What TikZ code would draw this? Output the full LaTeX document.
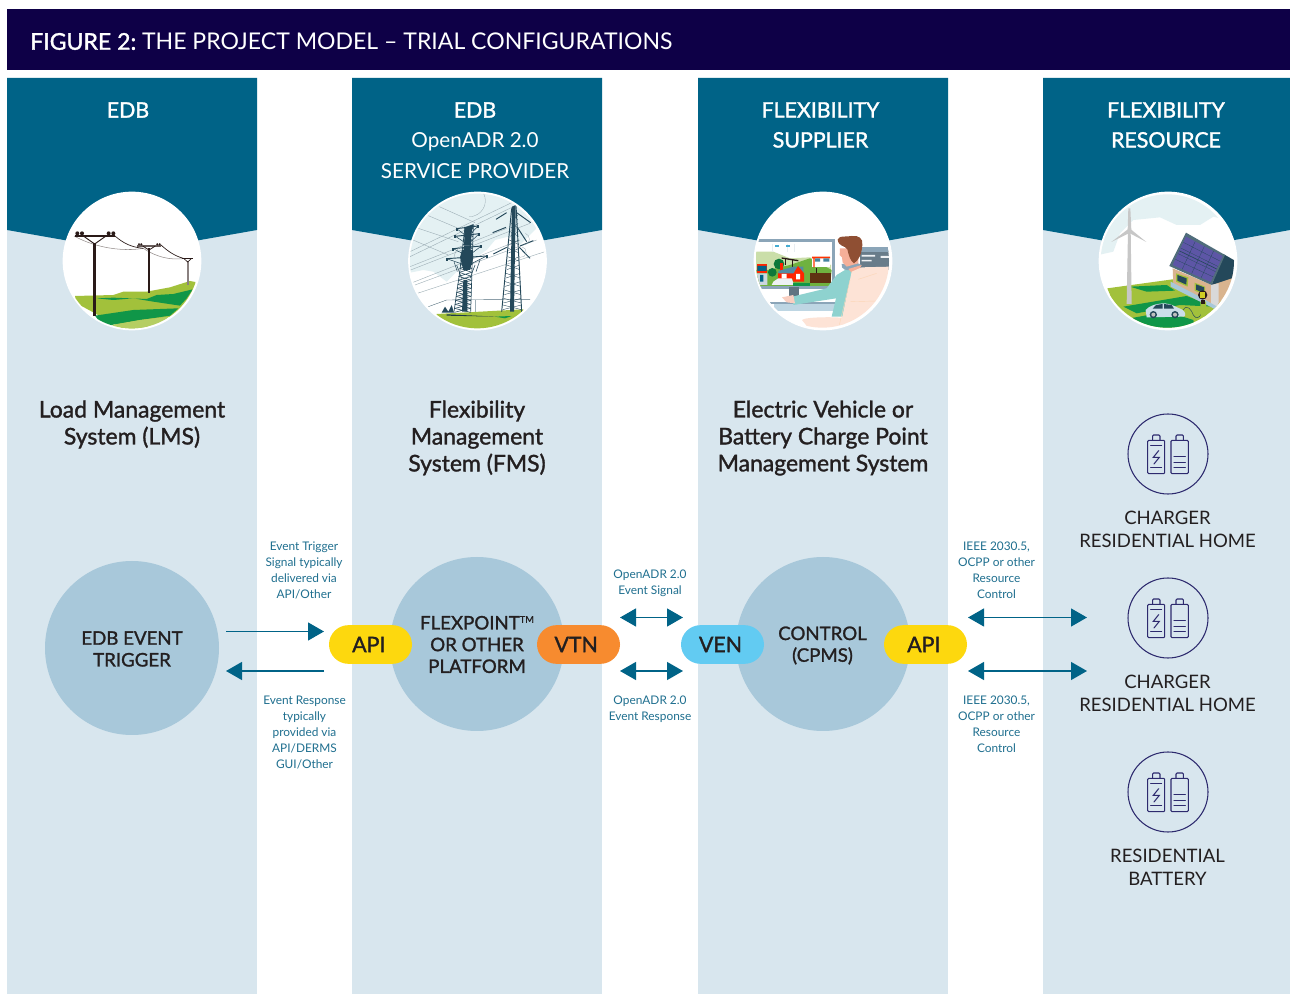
\documentclass[tikz,border=0pt]{standalone}
\usepackage{fontspec}
\setmainfont{Lato}
\newfontfamily\medfont[FakeBold=1.4]{Lato}
\usetikzlibrary{arrows.meta,calc}
\definecolor{navy}{HTML}{0E0047}
\definecolor{teal}{HTML}{006387}
\definecolor{pale}{HTML}{D8E6EE}
\definecolor{disc}{HTML}{A8C8DA}
\definecolor{yel}{HTML}{FDD80E}
\definecolor{ora}{HTML}{F78B2F}
\definecolor{sky}{HTML}{62CBF2}
\definecolor{ink}{HTML}{231F20}
\definecolor{icon}{HTML}{2D2A6E}
\definecolor{lab}{HTML}{1F6F8F}
\definecolor{lgreen}{HTML}{A2C13B}
\definecolor{dgreen}{HTML}{109648}
\definecolor{mist}{HTML}{E4F1F3}
\definecolor{pyl}{HTML}{24485A}
\definecolor{pole}{HTML}{2A1A18}
\definecolor{frameblue}{HTML}{8BA5B8}
\definecolor{shirt}{HTML}{8ED2CF}
\definecolor{hair}{HTML}{8F4F33}
\definecolor{chair}{HTML}{FDE3D6}
\definecolor{skin}{HTML}{F5AF98}
\definecolor{roof}{HTML}{5D56A6}
\definecolor{wall}{HTML}{D9B48F}
\tikzset{
 headtxt/.style={text=white,align=center,inner sep=0pt,font=\fontsize{15.5}{23.2}\selectfont},
 headb/.style={headtxt,font=\medfont\fontsize{16}{22.5}\selectfont},
 systxt/.style={text=ink,align=center,inner sep=0pt,font=\medfont\fontsize{17.2}{20.2}\selectfont},
 captxt/.style={text=ink,align=center,inner sep=0pt,font=\fontsize{13.9}{17.6}\selectfont},
 innertxt/.style={text=ink,align=center,inner sep=0pt,font=\medfont\fontsize{14}{16.3}\selectfont},
 smalltxt/.style={text=lab,align=center,inner sep=0pt,font=\fontsize{8.9}{12}\selectfont},
 pill/.style={rounded corners=14.6pt,minimum width=62.25pt,minimum height=29pt,inner sep=0pt,text=ink,font=\medfont\fontsize{16}{18}\selectfont},
 bigdisc/.style={circle,fill=disc,minimum size=130.5pt,inner sep=0pt},
 whitedisc/.style={circle,fill=white,minimum size=104pt,inner sep=0pt},
 ringdisc/.style={circle,draw=icon,line width=.8pt,minimum size=60pt,inner sep=0pt},
 flow/.style={draw=teal,line width=.9pt},
 oneway/.style={flow,-{Triangle[length=12pt,width=13.5pt]}},
 twoway/.style={flow,{Triangle[length=12pt,width=13.5pt]}-{Triangle[length=12pt,width=13.5pt]}},
 batt/.style={draw=icon,line width=.8pt,rounded corners=.8pt,line cap=round},
 zoomed/.style={x=.25pt,y=-.25pt},
}
\newcommand{\battery}[1]{%
 \begin{scope}[shift={(#1)},zoomed]
  \draw[batt] (-61,-41) rectangle (-10,59);
  \draw[batt] (-46,-41) -- (-46,-57) -- (-24,-57) -- (-24,-41);
  \draw[batt] (-52,-25) -- (-19,-25) (-52,41) -- (-19,41);
  \draw[batt,rounded corners=0pt] (-28,-10) -- (-44,10) -- (-26,10) -- (-42,30);
  \draw[batt] (9,-41) rectangle (61,59);
  \draw[batt] (24,-41) -- (24,-57) -- (46,-57) -- (46,-41);
  \draw[batt] (18,8) -- (52,8) (18,25) -- (52,25) (18,41) -- (52,41);
 \end{scope}}
\begin{document}
\begin{tikzpicture}[x=.75pt,y=-.75pt]
\useasboundingbox (0,0) rectangle (1290,994);
\fill[white] (0,0) rectangle (1290,994);
\fill[navy] (7,9) rectangle (1290,70);
\node[anchor=west,text=white,inner sep=0pt,font=\fontsize{17.27}{20}\selectfont] (title) at (30,41.5) {{\medfont FIGURE 2:}\kern-1.5pt{} THE PROJECT MODEL – TRIAL CONFIGURATIONS};
% columns
\foreach \l/\r/\c in {7/257/132,352/602/477.5,698/948/823,1043/1290/1168}{
 \fill[pale] (\l,78) rectangle (\r,994);
 \fill[teal] (\l,78) -- (\r,78) -- (\r,230) -- (\c,252) -- (\l,230) -- cycle;
}
\node[whitedisc] (w1) at (132,261) {};
\node[whitedisc] (w2) at (477.5,261) {};
\node[whitedisc] (w3) at (823,261) {};
\node[whitedisc] (w4) at (1168,261) {};
% headers
\node[headb] (h1) at (128,110) {EDB};
\node[headb] (h2) at (475,110) {EDB};
\node[headtxt] (h2b) at (475,155.5) {OpenADR 2.0\\SERVICE PROVIDER};
\node[headb] (h3) at (820.5,125) {FLEXIBILITY\\SUPPLIER};
\node[headb] (h4) at (1166,125) {FLEXIBILITY\\RESOURCE};
% illustration 1
\begin{scope}[shift={(0,170)},zoomed]
 \clip (395,273) circle (202);
 \fill[lgreen] (225,378) -- (340,375) -- (370,365) -- (440,365) -- (510,352) -- (570,333) -- (586,336) -- (600,400) -- (395,490) -- (230,400) -- cycle;
 \fill[dgreen] (290,385) -- (340,383) -- (440,387) -- (470,375) -- (520,372) -- (578,358) -- (560,385) -- (540,407) -- (460,395) -- (400,385) -- (340,390) -- cycle;
 \fill[dgreen] (285,437) -- (400,420) -- (535,415) -- (510,437) -- (420,450) -- (335,465) -- (310,470) -- cycle;
 \fill[lgreen!80!white] (335,465) -- (420,450) -- (505,440) -- (470,480) -- (395,490) -- cycle;
 \draw[pole!50!white,line width=.4pt] (222,198) .. controls (290,235) and (370,245) .. (430,235);
 \draw[pole!50!white,line width=.4pt] (430,235) .. controls (470,262) and (510,270) .. (550,266);
 \draw[pole,line width=.5pt] (345,198) .. controls (370,220) and (395,232) .. (430,235);
 \draw[pole,line width=.5pt] (483,225) .. controls (505,245) and (525,258) .. (550,265);
 \fill[pole] (280,220) rectangle (288,438);
 \fill[pole] (225,195) rectangle (345,202);
 \draw[pole,line width=.7pt] (250,198) -- (284,222) -- (318,198);
 \foreach \a in {232,246,326,340} \fill[pole] (\a,190) circle (6);
 \fill[pole] (444,235) rectangle (450,368);
 \fill[pole!70!white] (412,226) rectangle (483,230);
 \draw[pole,line width=.6pt] (428,228) -- (447,240) -- (466,228);
 \foreach \a in {417,424,472,479} \fill[pole] (\a,223) circle (3.5);
 \fill[pole!55!white] (561,272) rectangle (566,345);
 \fill[pole] (545,264) rectangle (580,268);
 \draw[pole,line width=.5pt] (552,266) -- (563,276) -- (574,266);
\end{scope}
% illustration 2
\begin{scope}[shift={(380,170)},zoomed]
 \clip (292,273) circle (202);
 \fill[mist] (80,310) -- (130,300) -- (160,305) -- (200,335) -- (240,295) -- (320,240) -- (345,210) -- (385,200) -- (420,225) -- (475,170) -- (500,60) -- (80,60) -- cycle;
 \begin{scope}[draw=pyl!45!white,line width=.3pt]
  \draw (90,245) -- (395,98); \draw (90,260) -- (400,110);
  \draw (90,290) -- (380,175); \draw (92,300) -- (450,160);
  \draw (92,340) -- (420,210); \draw (105,345) -- (470,210);
  \draw (112,370) -- (495,245);
  \draw (178,110) -- (285,158); \draw (145,137) -- (235,175);
  \draw (115,175) -- (235,215); \draw (92,207) -- (205,255);
  \draw[pyl!80!white] (145,410) -- (200,390) -- (450,388);
  \draw (285,390) -- (285,430);
 \end{scope}
 \fill[lgreen] (170,432) -- (430,418) -- (420,500) -- (180,500) -- cycle;
 \fill[dgreen] (345,440) -- (395,438) -- (375,445) -- cycle;
 \fill[pyl!80!black] (200,433) -- (350,440) -- (200,437) -- cycle;
 \fill[pyl] (185,428) -- (195,410) -- (205,425) -- (215,405) -- (222,428) -- cycle;
 % left pylon: lattice legs, core and cross-arms
 \draw[pyl,line width=.5pt] (255,170) -- (240,300) -- (222,425);
 \draw[pyl,line width=.5pt] (280,165) -- (276,300) -- (272,425);
 \foreach \k in {175,187,...,415}
  \draw[pyl,line width=.42pt] ({255-(\k-170)*.13},\k) -- ({279-(\k-170)*.03},\k+12) ({279-(\k-170)*.03},\k) -- ({255-(\k-170)*.13},\k+12);
 \fill[pyl] (254,172) -- (281,162) -- (274,190) -- (272,240) -- (252,240) -- cycle;
 \fill[pyl] (246,240) -- (278,240) -- (280,262) -- (270,300) -- (250,300) -- (240,262) -- cycle;
 \fill[pyl] (250,330) -- (262,330) -- (262,425) -- (246,425) -- cycle;
 \foreach \x/\yy/\w in {262/172/32,262/195/36,262/232/42,260/262/60}{
  \draw[pyl,line width=.7pt] (\x-\w,\yy+4) -- (\x+\w,\yy-4);
  \fill[pyl] (\x-\w-3,\yy+1) rectangle (\x-\w+3,\yy+10);
  \fill[pyl] (\x+\w-3,\yy-7) rectangle (\x+\w+3,\yy+3);
  \draw[pyl,line width=.4pt] (\x-\w,\yy+4) -- (\x-8,\yy+22) (\x+\w,\yy-4) -- (\x+8,\yy+22);
 }
 \draw[pyl,line width=.4pt] (222,275) -- (232,305) (300,270) -- (288,305) (230,285) -- (245,325) (285,285) -- (270,325);
 \draw[pyl!50!white,line width=.2pt] (268,140) arc (90:-50:48) (222,265) arc (180:280:40);
 % right pylon
 \draw[pyl,line width=.7pt] (395,115) -- (365,425) (408,105) -- (425,425);
 \fill[pyl] (396,110) -- (407,105) -- (402,425) -- (390,425) -- cycle;
 \foreach \k in {135,160,185,210,235,260,285,310,335,360,385,405}
  \draw[pyl,line width=.28pt] (409-\k*.1,\k) -- (408+\k*.04,\k+14) (408+\k*.04,\k) -- (409-\k*.1,\k+14);
 \draw[pyl,line width=.7pt] (348,148) -- (380,128) (410,128) -- (452,158);
 \draw[pyl,line width=.7pt] (338,188) -- (378,172) (412,172) -- (440,215) (420,228) -- (460,212);
 \draw[pyl,line width=.7pt] (340,252) -- (380,232) (418,232) -- (450,265);
 \draw[pyl!50!white,line width=.2pt] (430,225) arc (90:-70:18) (420,262) arc (100:-80:16);
\end{scope}
% illustration 3
\begin{scope}[shift={(730,170)},zoomed]
 \clip (277,273) circle (200);
 \fill[frameblue!75!black] (390,232) rectangle (490,300);
 \fill[frameblue] (385,232) rectangle (490,245);
 \fill[white!85!frameblue] (395,255) rectangle (435,260) (395,270) rectangle (425,274) (452,258) rectangle (485,264);
 % monitor
 \fill[white] (78,212) rectangle (312,350);
 \fill[mist!60!lgreen] (78,245) -- (130,245) -- (180,265) -- (240,262) -- (303,285) -- (303,350) -- (78,350) -- cycle;
 \fill[lgreen!65!dgreen] (78,300) -- (115,300) -- (180,285) -- (240,265) -- (305,300) -- (300,350) -- (78,350) -- cycle;
 \foreach \tx in {128,172,192} \draw[white!80!frameblue,line width=.7pt] (\tx,222) -- (\tx,247);
 \foreach \tx in {140,174} \fill[sky!70!teal] (\tx-6,224) rectangle (\tx+6,232);
 \fill[dgreen!80!black] (147,282) circle (16) (127,307) circle (13);
 \fill[pole] (155,262) -- (205,270) -- (205,274) -- (155,266) -- cycle;
 \draw[pole,line width=.5pt] (167,264) -- (167,285) (187,268) -- (187,290);
 % houses
 \fill[red!75!orange] (150,280) rectangle (160,310);
 \fill[red!75!orange] (145,310) rectangle (220,328);
 \fill[frameblue!60!teal] (145,303) -- (190,290) -- (220,290) -- (220,310) -- (145,310) -- cycle;
 \fill[red!70!orange] (188,315) -- (204,288) -- (222,310) -- (222,335) -- (188,335) -- cycle;
 \fill[white] (198,312) rectangle (210,328) (155,312) rectangle (170,326);
 \fill[white] (246,262) rectangle (300,292);
 \fill[red!60!orange] (246,260) rectangle (300,265) (250,265) rectangle (254,292);
 \fill[frameblue!50!teal] (255,265) rectangle (270,275) (280,265) rectangle (298,275);
 \fill[pole!75!orange] (240,308) -- (304,308) -- (304,338) -- (240,338) -- cycle;
 \fill[pole] (258,295) rectangle (262,310);
 \fill[frameblue!45!white] (80,310) -- (112,310) -- (112,345) -- (90,345) -- (80,340) -- cycle;
 \fill[red!70!orange] (80,282) rectangle (112,310);
 \fill[teal] (90,315) rectangle (100,335) (82,288) rectangle (110,303);
 \fill[white!85!frameblue] (130,335) -- (145,325) -- (185,325) -- (192,345) -- (125,345) -- cycle;
 \fill[dgreen] (190,340) rectangle (240,350);
 \draw[frameblue,line width=2pt] (78,212) -- (310,212) -- (310,352) -- (78,352);
 % stand, desk
 \fill[frameblue!70!black] (177,352) rectangle (207,385);
 \fill[frameblue] (120,396) rectangle (330,403);
 \fill[disc!75!white] (132,403) rectangle (325,423);
 % person
 \fill[shirt] (345,300) -- (370,298) -- (345,440) -- (305,440) -- (318,385) -- (190,405) -- (187,380) -- (290,355) -- (320,315) -- cycle;
 \fill[skin!60!white] (156,382) -- (190,375) -- (195,400) -- (170,397) -- cycle;
 \fill[frameblue] (335,282) .. controls (332,298) and (350,305) .. (365,298) -- (395,285) -- (380,278) -- cycle;
 \fill[skin] (355,297) -- (395,285) -- (385,305) -- (365,308) -- cycle;
 \fill[skin] (330,235) -- (355,235) -- (385,240) -- (385,280) -- (350,290) -- (338,278) -- (336,262) -- (329,255) -- cycle;
 \fill[hair] (323,208) .. controls (330,195) and (345,202) .. (365,198) .. controls (385,195) and (400,205) .. (397,225) .. controls (395,250) and (388,270) .. (372,280) .. controls (360,272) and (356,255) .. (352,238) .. controls (345,225) and (325,232) .. (323,208) -- cycle;
 % chair
 \fill[chair] (365,305) -- (395,292) -- (480,290) -- (490,480) -- (330,480) -- (335,450) -- cycle;
 \fill[chair] (216,450) .. controls (225,440) and (330,440) .. (345,445) -- (345,490) -- (240,480) -- cycle;
 \draw[ora!35!white,line width=.3pt] (362,395) -- (440,393) (385,328) -- (440,310) (328,465) -- (360,330);
\end{scope}
% illustration 4
\begin{scope}[shift={(1080,170)},zoomed]
 \clip (262,273) circle (200);
 \fill[mist] (55,255) -- (100,245) -- (120,190) -- (160,150) -- (240,142) -- (290,165) -- (360,165) -- (400,140) -- (480,160) -- (480,50) -- (50,50) -- cycle;
 \fill[lgreen] (82,355) -- (300,325) -- (480,420) -- (300,500) -- (130,470) -- cycle;
 \fill[dgreen] (150,350) -- (260,345) -- (285,362) -- (200,365) -- cycle;
 \fill[dgreen] (130,410) -- (320,378) -- (400,410) -- (300,405) -- (170,430) -- cycle;
 \fill[dgreen] (150,445) -- (260,425) -- (340,450) -- (345,480) -- (200,490) -- cycle;
 % turbine
 \fill[black!22] (140,402) -- (155,402) -- (152,180) -- (144,180) -- cycle;
 \fill[black!22] (145,115) -- (151,115) -- (154,180) -- (143,180) -- cycle;
 \fill[black!22] (146,176) -- (94,216) -- (150,188) -- cycle;
 \fill[black!22] (150,176) -- (199,216) -- (146,188) -- cycle;
 % house
 \fill[wall] (278,295) -- (395,345) -- (462,310) -- (452,370) -- (415,410) -- (280,345) -- cycle;
 \fill[pyl] (395,345) -- (430,252) -- (470,275) -- (470,320) -- cycle;
 \fill[pyl!80!white] (318,188) -- (268,288) -- (395,345) -- (435,255) -- cycle;
 \fill[roof] (318,200) -- (278,285) -- (392,336) -- (428,258) -- cycle;
 \foreach \t in {.25,.5,.75} \draw[pyl,line width=.2pt] ($(318,200)!\t!(428,258)$) -- ($(278,285)!\t!(392,336)$);
 \foreach \t in {.2,.4,.6,.8} \draw[pyl,line width=.2pt] ($(318,200)!\t!(278,285)$) -- ($(428,258)!\t!(392,336)$);
 \draw[pyl,line width=.5pt] ($(318,200)!.5!(278,285)$) -- ($(428,258)!.5!(392,336)$);
 \fill[lgreen] (288,310) -- (325,322) -- (323,350) -- (288,335) -- cycle;
 \fill[pyl] (292,315) -- (320,325) -- (319,344) -- (292,332) -- cycle;
 \fill[lgreen] (344,338) -- (375,350) -- (375,375) -- (344,362) -- cycle;
 \fill[pyl] (348,343) -- (372,352) -- (372,370) -- (348,359) -- cycle;
 \fill[black!15] (393,345) -- (416,340) -- (416,412) -- (393,405) -- cycle;
 \fill[disc] (272,335) -- (350,375) -- (415,412) -- (410,420) -- (272,350) -- cycle;
 % charger
 \draw[pyl,line width=.35pt] (310,420) .. controls (320,400) and (335,420) .. (340,435) .. controls (348,448) and (358,445) .. (365,430);
 \fill[lgreen] (361,395) -- (378,395) -- (381,438) -- (362,440) -- cycle;
 \fill[pole] (368,375) circle (14);
 \fill[lgreen!50!yel] (360,366) rectangle (376,384);
 \fill[pole] (363,390) rectangle (374,402);
 % car
 \fill[disc!60!white] (197,420) .. controls (205,410) and (225,400) .. (255,400) .. controls (275,402) and (285,410) .. (305,418) .. controls (318,425) and (318,438) .. (312,440) -- (200,442) -- cycle;
 \fill[pyl] (228,405) -- (248,402) -- (248,416) -- (218,416) -- cycle (252,402) -- (275,405) -- (282,416) -- (252,416) -- cycle;
 \fill[pyl] (220,434) circle (11) (285,434) circle (11);
 \fill[black!25] (220,434) circle (6) (285,434) circle (6);
\end{scope}
% system labels
\node[systxt] (s1) at (132,424.5) {Load Management\\System (LMS)};
\node[systxt] (s2) at (477,438) {Flexibility\\Management\\System (FMS)};
\node[systxt] (s3) at (823,438) {Electric Vehicle or\\Battery Charge Point\\Management System};
% resource icons
\node[ringdisc] (r1) at (1168,454) {};
\node[ringdisc] (r2) at (1168,618) {};
\node[ringdisc] (r3) at (1168,792) {};
\battery{r1}\battery{r2}\battery{r3}
\node[captxt] (c1) at (1167.5,529.5) {CHARGER\\RESIDENTIAL HOME};
\node[captxt] (c2) at (1167.5,693.5) {CHARGER\\RESIDENTIAL HOME};
\node[captxt] (c3) at (1167.5,867.5) {RESIDENTIAL\\BATTERY};
% big discs
\node[bigdisc] (d1) at (132,648) {};
\node[bigdisc] (d2) at (477,644) {};
\node[bigdisc] (d3) at (823,644) {};
\node[innertxt] at (132,649) (t1) {EDB EVENT\\TRIGGER};
\node[innertxt] at (477,644.5) (t2) {FLEXPOINT\raisebox{5pt}{\fontsize{7}{7}\selectfont TM}\\OR OTHER\\PLATFORM};
\node[innertxt] at (822.5,645.5) (t3) {CONTROL\\(CPMS)};
% pills
\node[pill,fill=yel] (api1) at (370.5,644.5) {API\kern2.5pt};
\node[pill,fill=ora] (vtn) at (578.5,644.5) {VTN\kern3.5pt};
\node[pill,fill=sky] (ven) at (722.5,644.5) {VEN\kern3pt};
\node[pill,fill=yel] (api2) at (925.5,644.5) {API\kern2.5pt};
% connector ends
\coordinate (a1s) at (226,631.5); \coordinate (a1e) at (324,631.5);
\coordinate (a2s) at (324,671); \coordinate (a2e) at (226,671);
\coordinate (b1s) at (620,617.5); \coordinate (b1e) at (683,617.5);
\coordinate (b2s) at (620,671); \coordinate (b2e) at (683,671);
\coordinate (c1s) at (968,617.5); \coordinate (c1e) at (1087,617.5);
\coordinate (c2s) at (968,671); \coordinate (c2e) at (1087,671);
\draw[oneway] (a1s) -- (a1e);
\draw[oneway] (a2s) -- (a2e);
\draw[twoway] (b1s) -- (b1e);
\draw[twoway] (b2s) -- (b2e);
\draw[twoway] (c1s) -- (c1e);
\draw[twoway] (c2s) -- (c2e);
% small labels
\node[smalltxt] (l1) at (304,570.5) {Event Trigger\\Signal typically\\delivered via\\API/Other};
\node[smalltxt] (l2) at (304.5,733) {Event Response\\typically\\provided via\\API/DERMS\\GUI/Other};
\node[smalltxt] (l3) at (650,583) {OpenADR 2.0\\Event Signal};
\node[smalltxt] (l4) at (650,709) {OpenADR 2.0\\Event Response};
\node[smalltxt] (l5) at (996.5,570) {IEEE 2030.5,\\OCPP or other\\Resource\\Control};
\node[smalltxt] (l6) at (996.5,724) {IEEE 2030.5,\\OCPP or other\\Resource\\Control};
\end{tikzpicture}
\end{document}
